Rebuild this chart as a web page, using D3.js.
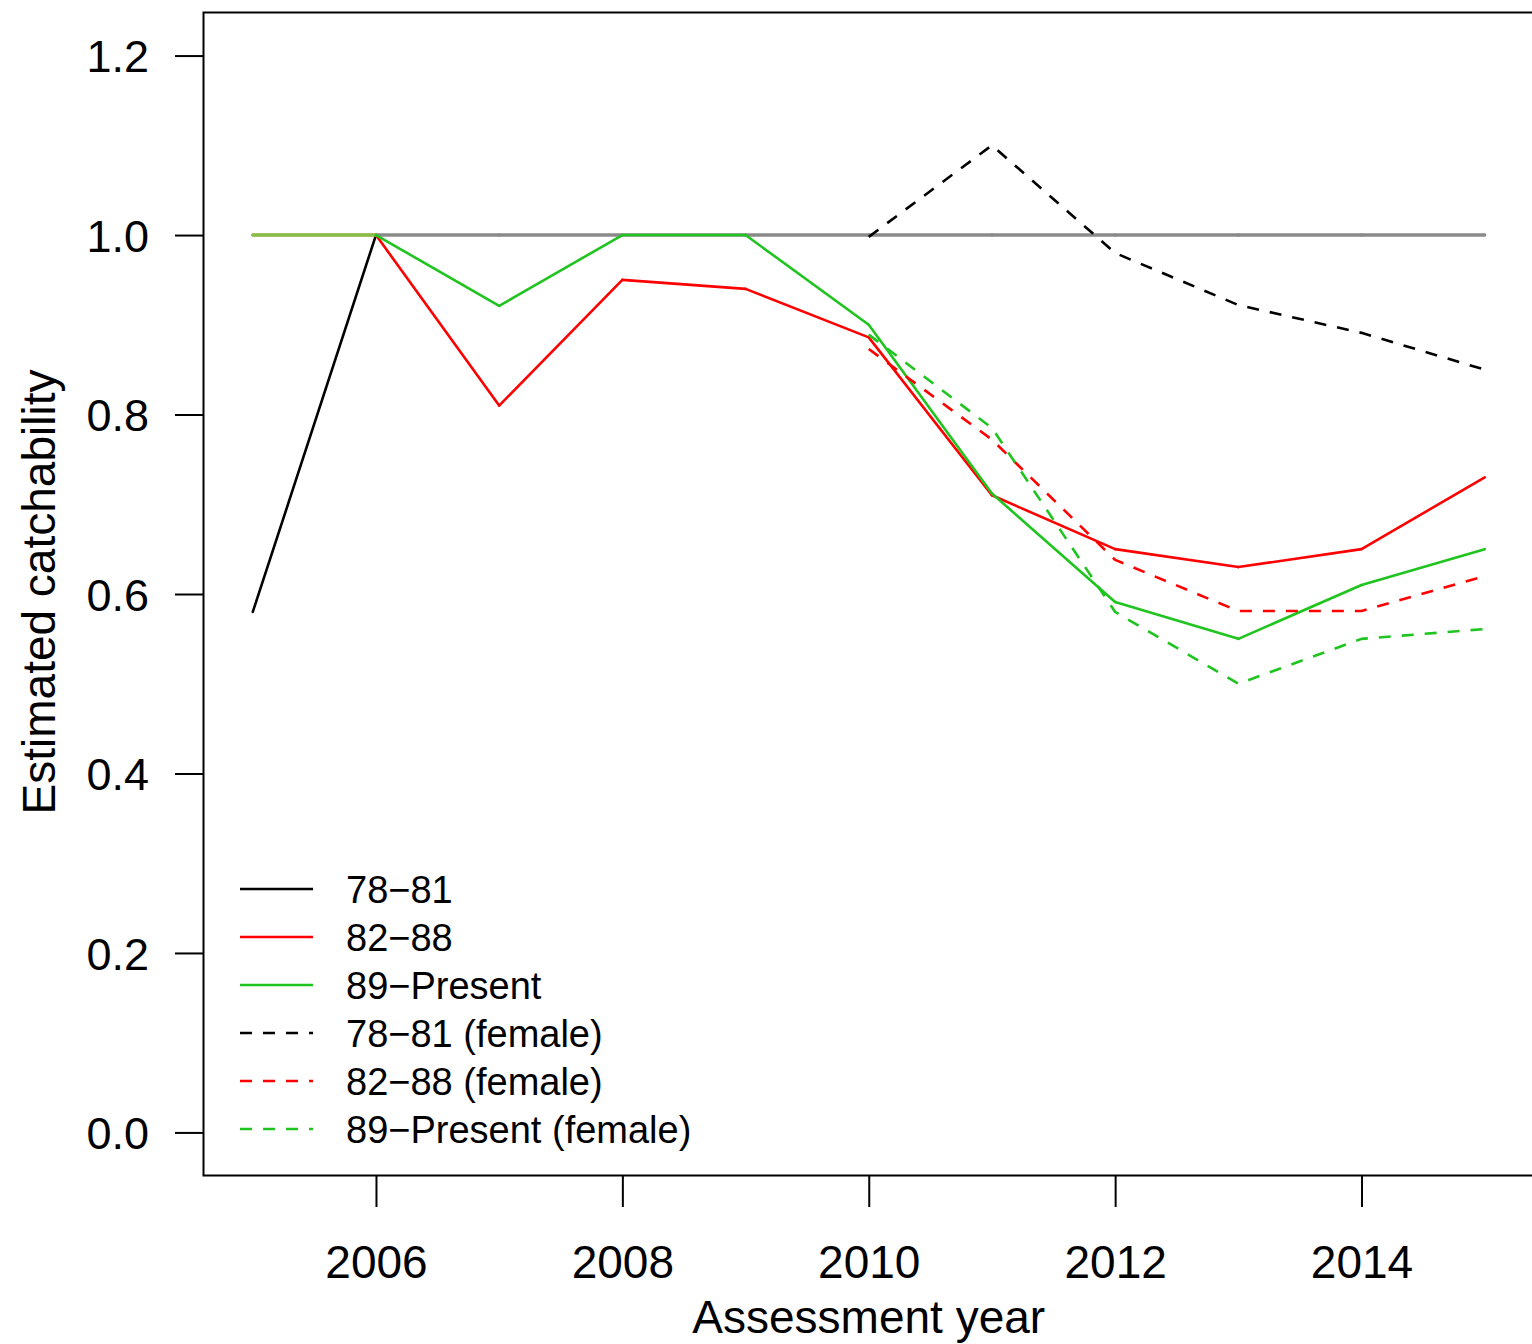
<!DOCTYPE html>
<html>
<head>
<meta charset="utf-8">
<script src="https://cdn.jsdelivr.net/npm/d3@7/dist/d3.min.js"></script>
<style>
html,body{margin:0;padding:0;background:#fff;}
svg{display:block;}
text{font-family:"Liberation Sans",Arial,sans-serif;fill:#000;}
</style>
</head>
<body>
<svg id="chart" width="1532" height="1344"></svg>
<script>
// ---- data ----
const years = [2005,2006,2007,2008,2009,2010,2011,2012,2013,2014,2015];
const s7881   = [0.58,1.0,1.0,1.0,1.0,1.0,1.0,1.0,1.0,1.0,1.0];
const s8288   = [1.0,1.0,0.81,0.95,0.94,0.886,0.71,0.65,0.63,0.65,0.73];
const s89P    = [1.0,1.0,0.921,1.0,1.0,0.90,0.712,0.591,0.55,0.61,0.65];
const femYears = [2010,2011,2012,2013,2014,2015];
const f7881   = [0.998,1.10,0.98,0.922,0.891,0.85];
const f8288   = [0.873,0.772,0.638,0.581,0.581,0.62];
const f89P    = [0.889,0.785,0.58,0.50,0.55,0.561];
const legendLabels = ["78\u221281","82\u221288","89\u2212Present","78\u221281 (female)","82\u221288 (female)","89\u2212Present (female)"];
const xTicks = [2006,2008,2010,2012,2014];
const yTicks = [0.0,0.2,0.4,0.6,0.8,1.0,1.2];

const BLACK="#000000", RED="#ff0000", GREEN="#1fc41f";
const series = [
  {x:years, y:s7881, color:BLACK, dash:null},
  {x:years, y:s8288, color:RED, dash:null},
  {x:years, y:s89P, color:GREEN, dash:null},
  {x:femYears, y:f7881, color:BLACK, dash:"12,11"},
  {x:femYears, y:f8288, color:RED, dash:"12,11"},
  {x:femYears, y:f89P, color:GREEN, dash:"12,11"}
];

const svg = d3.select("#chart");
const L=203.5, T=12.5, R=1534, B=1175.5;
const x = d3.scaleLinear().domain([2004.6,2015.4]).range([L,R]);
const y = d3.scaleLinear().domain([-0.048,1.248]).range([B,T]);

// frame
svg.append("rect").attr("x",L).attr("y",T).attr("width",R-L).attr("height",B-T)
  .attr("fill","none").attr("stroke","#000").attr("stroke-width",2);

// axes
const yAxis = d3.axisLeft(y).tickValues(yTicks).tickFormat(d3.format(".1f")).tickSize(28).tickPadding(26);
const gy = svg.append("g").attr("transform",`translate(${L-0.5},0)`).call(yAxis);
gy.select(".domain").remove();
gy.selectAll("line").attr("stroke","#000").attr("stroke-width",2);
gy.selectAll("text").style("font-size","45px").attr("dy","0.36em");

const xAxis = d3.axisBottom(x).tickValues(xTicks).tickFormat(d3.format("d")).tickSize(31).tickPadding(38);
const gx = svg.append("g").attr("transform",`translate(0,${B+0.5})`).call(xAxis);
gx.select(".domain").remove();
gx.selectAll("line").attr("stroke","#000").attr("stroke-width",2);
gx.selectAll("text").style("font-size","46px").attr("dy","0.71em");

svg.append("text").attr("x",(L+R)/2).attr("y",1333).attr("text-anchor","middle")
  .style("font-size","46px").text("Assessment year");
svg.append("text").attr("transform","translate(55,592) rotate(-90)").attr("text-anchor","middle")
  .style("font-size","46px").text("Estimated catchability");

// lines, drawn segment by segment so overlaps can be toned like the reference
const g = svg.append("g");
function segs(s){
  const out=[];
  for(let i=0;i<s.x.length-1;i++) out.push({x0:s.x[i],y0:s.y[i],x1:s.x[i+1],y1:s.y[i+1]});
  return out;
}
function coincident(seg, other){
  for(let i=0;i<other.x.length-1;i++){
    if(other.x[i]===seg.x0 && other.x[i+1]===seg.x1 && other.y[i]===seg.y0 && other.y[i+1]===seg.y1) return true;
  }
  return false;
}
series.forEach((s,si)=>{
  const line = d3.line().x(d=>x(d[0])).y(d=>y(d[1]));
  if(s.dash){
    g.append("path").attr("d",line(s.x.map((v,i)=>[v,s.y[i]])))
      .attr("fill","none").attr("stroke",s.color).attr("stroke-width",2.6)
      .attr("stroke-dasharray",s.dash).attr("stroke-linejoin","round");
  } else {
    segs(s).forEach(sg=>{
      let col=s.color, w=2.6;
      if(si===0 && sg.y0===sg.y1) { col="#8a8a8a"; w=3.4; }
      if(si===2 && coincident(sg, series[1])) { col="#86c046"; w=3.4; }
      g.append("path").attr("d",line([[sg.x0,sg.y0],[sg.x1,sg.y1]]))
        .attr("fill","none").attr("stroke",col).attr("stroke-width",w).attr("stroke-linecap","round");
    });
  }
});

// legend
const lg = svg.append("g");
const rowY0 = 889, rowH = 48;
series.forEach((s,i)=>{
  const yy = rowY0 + i*rowH;
  lg.append("line").attr("x1",240).attr("x2",313).attr("y1",yy).attr("y2",yy)
    .attr("stroke",s.color).attr("stroke-width",2.6).attr("stroke-dasharray",s.dash?"12,11":null);
  lg.append("text").attr("x",346).attr("y",yy).attr("dy","0.36em").style("font-size","38px").text(legendLabels[i]);
});
</script>
</body>
</html>
